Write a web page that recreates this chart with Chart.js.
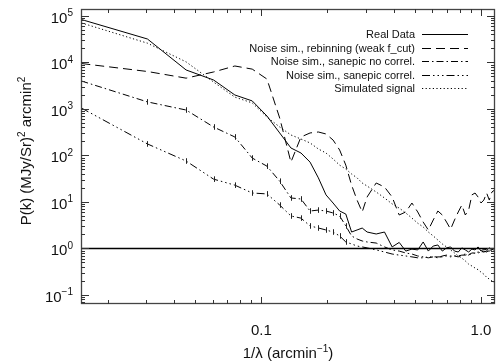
<!DOCTYPE html>
<html><head><meta charset="utf-8">
<script src="https://cdn.jsdelivr.net/npm/chart.js@4.4.1/dist/chart.umd.min.js"></script>
<style>html,body{margin:0;padding:0;background:#fff;}canvas{display:block;}</style>
</head><body>
<canvas id="c" width="496" height="362"></canvas>
<script>
// spatial frequency 1/lambda (arcmin^-1)
const k = [0.01515,0.0303,0.04545,0.0606,0.07575,0.0909,0.10605,0.1212,0.13635,0.1515,
  0.16665,0.1818,0.19695,0.2121,0.22725,0.2424,0.25755,0.2727,0.28785,0.303,
  0.3333,0.3636,0.3939,0.4242,0.4545,0.4848,0.5151,0.5454,0.5757,0.606,
  0.6363,0.6666,0.6969,0.7272,0.7575,0.7878,0.8181,0.8484,0.8787,0.909,
  0.9393,0.9696,0.9999,1.0302,1.0605,1.0908,1.1211,1.1514];
const realData = [84000,32000,6900,4200,2000,1490,706,305,145,113,
  72,33,14.2,9.5,6.4,5.5,2.26,2.5,2.75,2.26,
  2.05,2.26,1.08,1.35,0.88,0.97,0.93,1.38,0.88,1.13,
  1.19,0.88,1.03,1.08,0.88,0.84,1.03,0.93,0.84,0.97,
  0.93,1.08,0.88,0.97,0.93,1.03,0.93,1.03];
const noiseRebin = [9500,6400,4600,6250,8400,7200,4400,640,72,250,
  305,320,290,215,131,62,23,11,6.1,12.8,
  25.6,21,12.8,5.25,6.1,9.5,6.1,3.7,2.5,4.1,
  6.4,5.25,3.7,2.6,4.1,6.1,8.6,5.25,6.7,14.2,
  15.6,12.8,9.5,11,15.6,11,16.4,18];
const noiseNoCorrel = [4000,1420,950,410,250,88,59,28,12.2,11.6,
  6.4,6.7,6.4,5.8,5.0,3.05,1.86,1.6,1.45,1.38,
  1.31,1.08,0.93,0.88,0.8,0.76,0.69,0.66,0.63,0.66,
  0.63,0.69,0.72,0.69,0.69,0.66,0.72,0.76,0.72,0.8,
  0.8,0.84,0.84,0.88,0.84,0.93,0.88,0.93];
const noiseCorrel = [1050,177,76,31,23,15.6,14.9,8.6,5.0,4.5,
  3.05,2.76,2.5,2.26,1.86,1.38,1.25,1.13,1.08,1.03,
  0.93,0.84,0.76,0.72,0.69,0.66,0.63,0.63,0.66,0.66,
  0.66,0.66,0.69,0.66,0.69,0.69,0.72,0.72,0.76,0.76,
  0.8,0.8,0.84,0.84,0.88,0.88,0.93,0.93];
const simSignal = [71000,26000,10300,3800,1800,1350,670,410,276,226,
  186,138,113,84,62,51,40,33,25.6,22,
  16.4,12.2,9.1,7.4,5.8,4.5,3.5,2.9,2.26,1.86,
  1.52,1.25,1.08,0.93,0.8,0.69,0.62,0.54,0.46,0.42,
  0.38,0.35,0.31,0.28,0.24,0.22,0.2,0.18];
const refLevel = [1, 1];
const refK = [0.0151, 1.158];
const seriesNames = ['Real Data','Noise sim., rebinning (weak f_cut)','Noise sim., sanepic no correl.','Noise sim., sanepic correl.','Simulated signal'];
const xTickLabels = [[0.1,'0.1'],[1,'1.0']];
const yTickExps = [-1,0,1,2,3,4,5];
const ERR_DEX = 0.06;

const pts = arr => arr.map((v,i)=>({x:k[i], y:v}));
const dashes = [[], [9,5], [7,3,1.5,3], [8,3,1.5,3,1.5,3,1.5,3], [1.2,2.4]];
const seriesData = [realData, noiseRebin, noiseNoCorrel, noiseCorrel, simSignal];

const datasets = [{
  label: 'ref', data: refK.map((x,i)=>({x, y: refLevel[i]})), borderColor:'#000', borderWidth:1.4,
  pointRadius:0, showLine:true, fill:false
}];
seriesData.forEach((arr,i)=>{
  datasets.push({label: seriesNames[i], data: pts(arr), borderColor:'#000', borderWidth:1,
    borderDash: dashes[i], pointRadius:0, showLine:true, fill:false, tension:0,
    errBars: (i===2||i===3)});
});

const F = '"Liberation Sans", Arial, Helvetica, sans-serif';
function rich(ctx, parts, x, y, align){
  let w = 0;
  parts.forEach(p=>{ctx.font = (p.sup?'10px ':'15px ')+F; w += ctx.measureText(p.t).width;});
  let cx = align==='center' ? x - w/2 : (align==='right' ? x - w : x);
  ctx.textAlign = 'left';
  parts.forEach(p=>{ctx.font = (p.sup?'10px ':'15px ')+F;
    ctx.fillText(p.t, cx, y + (p.sup? -6.5 : 0)); cx += ctx.measureText(p.t).width;});
}

const idl = {
  id:'idl',
  afterDatasetsDraw(chart){
    const {ctx, scales:{y}} = chart;
    ctx.save(); ctx.strokeStyle='#222'; ctx.lineWidth=1; ctx.setLineDash([]);
    chart.data.datasets.forEach((ds,di)=>{
      if(!ds.errBars) return;
      const meta = chart.getDatasetMeta(di);
      ds.data.forEach((d,j)=>{
        if(j<1 || d.x>0.25) return;
        const p = meta.data[j];
        const y1 = y.getPixelForValue(d.y*Math.pow(10,ERR_DEX));
        const y2 = y.getPixelForValue(d.y/Math.pow(10,ERR_DEX));
        ctx.beginPath(); ctx.moveTo(Math.round(p.x)+0.5,y1); ctx.lineTo(Math.round(p.x)+0.5,y2); ctx.stroke();
      });
    });
    ctx.restore();
  },
  afterDraw(chart){
    const {ctx, chartArea:a, scales:{x,y}} = chart;
    ctx.save();
    ctx.strokeStyle='#444'; ctx.lineWidth=1.3; ctx.setLineDash([]);
    ctx.strokeRect(a.left+0.5, a.top+0.5, a.right-a.left-1, a.bottom-a.top-1);
    ctx.lineWidth=1; ctx.strokeStyle='#333';
    for(let d=-2; d<=1; d++) for(let m=1; m<=9; m++){
      const v = m*Math.pow(10,d);
      if(v < x.min || v > x.max) continue;
      const px = Math.round(x.getPixelForValue(v))+0.5;
      const L = m===1 ? 7 : 4;
      ctx.beginPath(); ctx.moveTo(px,a.bottom); ctx.lineTo(px,a.bottom-L);
      ctx.moveTo(px,a.top); ctx.lineTo(px,a.top+L); ctx.stroke();
    }
    for(let d=-2; d<=5; d++) for(let m=1; m<=9; m++){
      const v = m*Math.pow(10,d);
      if(v < y.min || v > y.max) continue;
      const py = Math.round(y.getPixelForValue(v))+0.5;
      const L = m===1 ? 8 : 4;
      ctx.beginPath(); ctx.moveTo(a.left,py); ctx.lineTo(a.left+L,py);
      ctx.moveTo(a.right,py); ctx.lineTo(a.right-L,py); ctx.stroke();
    }
    ctx.fillStyle='#111';
    ctx.textBaseline='alphabetic';
    ctx.font='15px '+F; ctx.textAlign='center';
    xTickLabels.forEach(([v,t])=>{ ctx.fillText(t, x.getPixelForValue(v), 335); });
    yTickExps.forEach(e=>{
      const py = y.getPixelForValue(Math.pow(10,e));
      const es = String(e).replace('-','\u2212');
      ctx.font='10px '+F; const ew = ctx.measureText(es).width;
      ctx.font='15px '+F; ctx.textAlign='right';
      const right = 73;
      ctx.fillText('10', right-ew, py+7);
      ctx.font='10px '+F; ctx.textAlign='left';
      ctx.fillText(es, right-ew, py+0.5);
    });
    rich(ctx, [{t:'1/\u03bb (arcmin'},{t:'\u22121',sup:true},{t:')'}], (a.left+a.right)/2, 358, 'center');
    ctx.save(); ctx.translate(31, 151); ctx.rotate(-Math.PI/2);
    rich(ctx, [{t:'P(k) (MJy/Sr)'},{t:'2',sup:true},{t:' arcmin'},{t:'2',sup:true}], 0, 0, 'center');
    ctx.restore();
    const rows = [34, 47.5, 61, 74.5, 88];
    ctx.font='11px '+F; ctx.textAlign='right';
    for(let i=0;i<5;i++){
      ctx.fillStyle='#111';
      ctx.fillText(seriesNames[i], 415, rows[i]+4);
      ctx.strokeStyle='#000'; ctx.lineWidth=1; ctx.setLineDash(dashes[i]);
      ctx.beginPath(); ctx.moveTo(422, Math.round(rows[i])+0.5); ctx.lineTo(468, Math.round(rows[i])+0.5); ctx.stroke();
    }
    ctx.restore();
  }
};

new Chart(document.getElementById('c'), {
  type:'scatter',
  data:{datasets},
  options:{
    responsive:false, animation:false, devicePixelRatio:1,
    layout:{padding:{left:81,right:1,top:9,bottom:58}},
    plugins:{legend:{display:false}, tooltip:{enabled:false}},
    scales:{
      x:{type:'logarithmic', min:0.0151, max:1.158, display:false},
      y:{type:'logarithmic', min:0.064, max:141254, display:false}
    }
  },
  plugins:[idl]
});
</script>
</body></html>
